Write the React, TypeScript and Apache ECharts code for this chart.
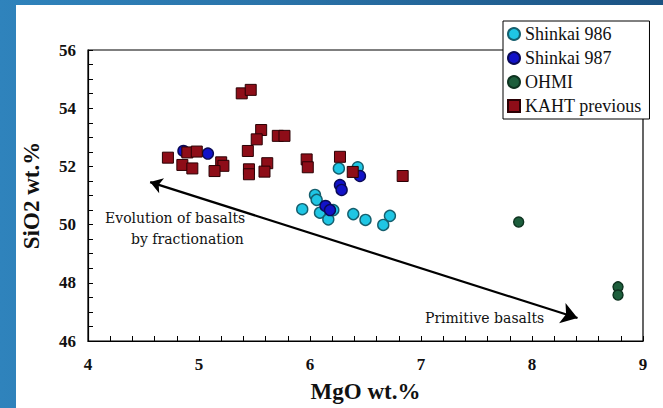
import React, { useEffect, useRef } from "react";
import * as echarts from "echarts";

const shinkai986: [number, number][] = [
  [6.26, 51.93], [6.43, 51.97], [6.045, 51.02], [6.06, 50.85], [5.93, 50.53],
  [6.09, 50.41], [6.165, 50.18], [6.21, 50.5], [6.39, 50.36], [6.5, 50.16],
  [6.66, 49.99], [6.72, 50.3],
];
const shinkai987: [number, number][] = [
  [4.86, 52.53], [5.08, 52.44], [6.45, 51.67], [6.27, 51.36], [6.285, 51.19],
  [6.14, 50.64], [6.18, 50.5],
];
const ohmi: [number, number][] = [
  [7.88, 50.09], [8.775, 47.86], [8.775, 47.58],
];
const kaht: [number, number][] = [
  [5.385, 54.51], [5.466, 54.63], [5.56, 53.25], [5.52, 52.93], [5.71, 53.05],
  [5.77, 53.05], [5.44, 52.53], [4.72, 52.3], [4.895, 52.48], [4.98, 52.51],
  [4.85, 52.05], [4.94, 51.93], [5.2, 52.14], [5.22, 52.02], [5.14, 51.84],
  [5.45, 51.9], [5.45, 51.73], [5.615, 52.11], [5.59, 51.82], [5.97, 52.24],
  [5.98, 51.97], [6.27, 52.33], [6.385, 51.81], [6.835, 51.67],
];
const arrowCoords: [number, number][] = [[4.56, 51.46], [8.41, 46.79]];

const seriesNames = ["Shinkai 986", "Shinkai 987", "OHMI", "KAHT previous"];

const serif = "Liberation Serif";
const slab = "DejaVu Serif";

export default function App() {
  const ref = useRef<HTMLDivElement>(null);
  useEffect(() => {
    if (!ref.current) return;
    const chart = echarts.init(ref.current, undefined, { renderer: "svg" });
    chart.setOption({
      animation: false,
      textStyle: { fontFamily: serif },
      grid: {
        left: 88, right: 20, top: 50, bottom: 67,
        show: true, borderColor: "#000", borderWidth: 1.2, backgroundColor: "transparent",
      },
      legend: {
        data: seriesNames.map((n, i) => ({ name: n, icon: i === 3 ? "rect" : "circle" })),
        orient: "vertical",
        left: 503, top: 21,
        backgroundColor: "#fff", borderColor: "#000", borderWidth: 1,
        borderRadius: 0,
        padding: [4, 8, 4, 4],
        itemGap: 6, itemWidth: 12, itemHeight: 12,
        textStyle: { fontFamily: serif, fontSize: 18, color: "#111" },
        z: 10,
      },
      xAxis: {
        type: "value", min: 4, max: 9, interval: 1,
        name: "MgO wt.%", nameLocation: "middle", nameGap: 39,
        nameTextStyle: { fontFamily: serif, fontSize: 23, fontWeight: "bold", color: "#111" },
        axisLine: { show: true, lineStyle: { color: "#000", width: 1.2 } },
        axisTick: { show: true, inside: true, length: 5, lineStyle: { color: "#000" } },
        minorTick: { show: true, splitNumber: 5, length: 5, lineStyle: { color: "#000" } },
        axisLabel: { fontFamily: serif, fontSize: 17, fontWeight: "bold", color: "#111", margin: 15 },
        splitLine: { show: false },
      },
      yAxis: {
        type: "value", min: 46, max: 56, interval: 2,
        name: "SiO2 wt.%", nameLocation: "middle", nameGap: 45,
        nameTextStyle: { fontFamily: serif, fontSize: 23, fontWeight: "bold", color: "#111" },
        axisLine: { show: true, lineStyle: { color: "#000", width: 1.2 } },
        axisTick: { show: true, inside: true, length: 5, lineStyle: { color: "#000" } },
        minorTick: { show: true, splitNumber: 4, length: 5, lineStyle: { color: "#000" } },
        axisLabel: { fontFamily: serif, fontSize: 17, fontWeight: "bold", color: "#111", margin: 12 },
        splitLine: { show: false },
      },
      series: [
        {
          name: "Shinkai 986", type: "scatter", data: shinkai986, symbol: "circle", symbolSize: 11,
          itemStyle: { color: "#1fc6e4", borderColor: "#155f6e", borderWidth: 1.4, opacity: 1 },
        },
        {
          name: "Shinkai 987", type: "scatter", data: shinkai987, symbol: "circle", symbolSize: 11,
          itemStyle: { color: "#1212c8", borderColor: "#0a0a55", borderWidth: 1.4, opacity: 1 },
        },
        {
          name: "OHMI", type: "scatter", data: ohmi, symbol: "circle", symbolSize: 10,
          itemStyle: { color: "#1d5e3c", borderColor: "#0e3320", borderWidth: 1.4, opacity: 1 },
        },
        {
          name: "KAHT previous", type: "scatter", data: kaht, symbol: "rect", symbolSize: 11,
          itemStyle: { color: "#8e0d18", borderColor: "#2a0004", borderWidth: 1, opacity: 1 },
        },
        {
          name: "arrow", type: "lines", coordinateSystem: "cartesian2d",
          polyline: false,
          data: [{ coords: arrowCoords }],
          symbol: ["arrow", "arrow"], symbolSize: [12, 16],
          lineStyle: { color: "#000", width: 2.2, opacity: 1 },
          silent: true,
        },
      ],
      graphic: [
        { type: "text", left: 105, top: 211, style: { text: "Evolution of basalts", fontFamily: slab, fontSize: 14, fill: "#111" } },
        { type: "text", left: 131, top: 232, style: { text: "by fractionation", fontFamily: slab, fontSize: 14, fill: "#111" } },
        { type: "text", left: 425, top: 311, style: { text: "Primitive basalts", fontFamily: slab, fontSize: 14, fill: "#111" } },
      ],
    });
    return () => chart.dispose();
  }, []);

  return (
    <div style={{ position: "fixed", left: 0, top: 0, width: 663, height: 408, background: "linear-gradient(90deg, #2f83bc 0%, #2a74aa 40%, #1b5282 100%)", overflow: "hidden" }}>
      <div style={{ position: "absolute", left: 16, top: 5, right: 0, bottom: 0, background: "#fff" }} />
      <div ref={ref} style={{ position: "absolute", left: 0, top: 0, width: 663, height: 408 }} />
    </div>
  );
}
